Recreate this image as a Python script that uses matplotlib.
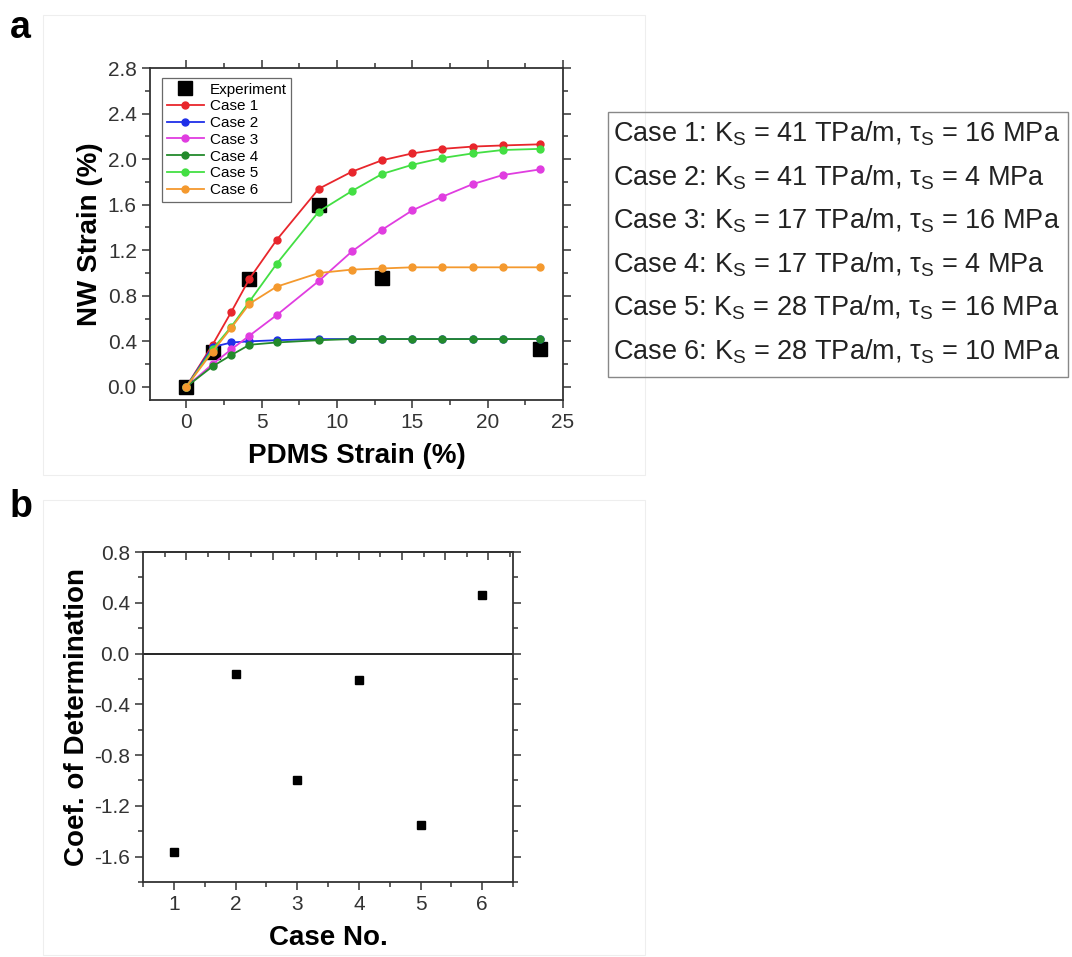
import numpy as np
import matplotlib
matplotlib.use("Agg")
import matplotlib.pyplot as plt
from matplotlib.patches import Rectangle
from matplotlib.ticker import MultipleLocator, FixedLocator, NullFormatter

plt.rcParams['font.family'] = ['Liberation Sans', 'DejaVu Sans']
plt.rcParams['mathtext.fontset'] = 'custom'
plt.rcParams['mathtext.rm'] = 'Liberation Sans'
plt.rcParams['mathtext.it'] = 'Liberation Sans:italic'
plt.rcParams['mathtext.bf'] = 'Liberation Sans:bold'

# ---------------- data: panel a ----------------
pdms_strain = [0, 1.75, 3.0, 4.2, 6.0, 8.8, 11.0, 13.0, 15.0, 17.0, 19.0, 21.0, 23.5]
case1 = [0, 0.37, 0.66, 0.95, 1.29, 1.74, 1.89, 1.99, 2.05, 2.09, 2.11, 2.12, 2.13]
case2 = [0, 0.35, 0.39, 0.40, 0.41, 0.42, 0.42, 0.42, 0.42, 0.42, 0.42, 0.42, 0.42]
case3 = [0, 0.20, 0.33, 0.45, 0.63, 0.93, 1.19, 1.38, 1.55, 1.67, 1.78, 1.86, 1.91]
case4 = [0, 0.18, 0.28, 0.37, 0.39, 0.41, 0.42, 0.42, 0.42, 0.42, 0.42, 0.42, 0.42]
case5 = [0, 0.33, 0.53, 0.75, 1.08, 1.54, 1.72, 1.87, 1.95, 2.01, 2.05, 2.08, 2.09]
case6 = [0, 0.31, 0.52, 0.73, 0.88, 1.00, 1.03, 1.04, 1.05, 1.05, 1.05, 1.05, 1.05]
exp_x = [0, 1.75, 4.2, 8.8, 13.0, 23.5]
exp_y = [0, 0.31, 0.95, 1.60, 0.96, 0.33]

case_labels = ['Case 1', 'Case 2', 'Case 3', 'Case 4', 'Case 5', 'Case 6']
case_colors = ['#e8262c', '#1f2fe8', '#e03de0', '#238a2c', '#43df43', '#f4992e']
param_lines = [
    r'Case 1: K$_\mathregular{S}$ = 41 TPa/m, τ$_\mathregular{S}$ = 16 MPa',
    r'Case 2: K$_\mathregular{S}$ = 41 TPa/m, τ$_\mathregular{S}$ = 4 MPa',
    r'Case 3: K$_\mathregular{S}$ = 17 TPa/m, τ$_\mathregular{S}$ = 16 MPa',
    r'Case 4: K$_\mathregular{S}$ = 17 TPa/m, τ$_\mathregular{S}$ = 4 MPa',
    r'Case 5: K$_\mathregular{S}$ = 28 TPa/m, τ$_\mathregular{S}$ = 16 MPa',
    r'Case 6: K$_\mathregular{S}$ = 28 TPa/m, τ$_\mathregular{S}$ = 10 MPa',
]

# ---------------- data: panel b ----------------
case_no = [1, 2, 3, 4, 5, 6]
coef_det = [-1.56, -0.16, -1.00, -0.21, -1.35, 0.46]

W, H = 1072, 957
fig = plt.figure(figsize=(W / 100, H / 100), dpi=100)

def fx(px):
    return px / W

def fy(py):
    return 1 - py / H

# faint panel frames
for (x0, y0, x1, y1) in [(43, 15, 645, 475), (43, 500, 645, 955)]:
    fig.patches.append(Rectangle((fx(x0), fy(y1)), fx(x1) - fx(x0), fy(y0) - fy(y1),
                                 transform=fig.transFigure, fill=False,
                                 edgecolor='#eeeeee', linewidth=0.8))

def style_axes(ax):
    for s in ax.spines.values():
        s.set_linewidth(1.3)
        s.set_color('#333333')
    ax.tick_params(which='both', direction='out', labelsize=15, colors='#333333',
                   labelcolor='#333333', width=1.1)
    ax.tick_params(which='major', length=6)
    ax.tick_params(which='minor', length=3.5)
    ax.tick_params(which='both', top=True, right=True)
    ax.tick_params(which='both', axis='x', labeltop=False)
    ax.tick_params(which='both', axis='y', labelright=False)

# ---------------- panel a ----------------
axa = fig.add_axes([fx(150), fy(400), fx(563) - fx(150), fy(68) - fy(400)])
axa.plot(exp_x, exp_y, linestyle='none', marker='s', markersize=10,
         color='black', label='Experiment', zorder=2)
series = [case1, case2, case3, case4, case5, case6]
order = [0, 4, 2, 5, 1, 3]
handles = {}
for i in order:
    h, = axa.plot(pdms_strain, series[i], '-o', color=case_colors[i], lw=1.3,
                  markersize=5, label=case_labels[i], zorder=3 + i * 0.1)
    handles[i] = h
axa.set_xlim(-2.4, 25)
axa.set_ylim(-0.115, 2.8)
axa.xaxis.set_major_locator(MultipleLocator(5))
axa.xaxis.set_minor_locator(MultipleLocator(2.5))
axa.yaxis.set_major_locator(MultipleLocator(0.4))
axa.yaxis.set_minor_locator(MultipleLocator(0.2))
axa.yaxis.set_major_formatter(matplotlib.ticker.FormatStrFormatter('%.1f'))
style_axes(axa)
axa.set_xlabel('PDMS Strain (%)', fontsize=20, fontweight='bold', labelpad=8)
axa.set_ylabel('NW Strain (%)', fontsize=20, fontweight='bold', labelpad=3)
hs, ls = axa.get_legend_handles_labels()
exp_h = hs[ls.index('Experiment')]
leg = axa.legend([exp_h] + [handles[i] for i in range(6)],
                 ['Experiment'] + case_labels,
                 loc='upper left', bbox_to_anchor=(0.03, 0.97), fontsize=11,
                 frameon=True, fancybox=False, edgecolor='#444444',
                 handlelength=2.4, handletextpad=0.4, labelspacing=0.18,
                 borderpad=0.3, borderaxespad=0.0)
leg.get_frame().set_linewidth(0.9)

# ---------------- parameter box ----------------
fig.patches.append(Rectangle((fx(608), fy(377)), fx(1068) - fx(608), fy(112) - fy(377),
                             transform=fig.transFigure, fill=False,
                             edgecolor='#888888', linewidth=1.0))
for k, line in enumerate(param_lines):
    fig.text(fx(613), fy(141.7 + k * 43.5), line, fontsize=19.5, color='#222222',
             ha='left', va='baseline')

# ---------------- panel b ----------------
axb = fig.add_axes([fx(143), fy(882), fx(513) - fx(143), fy(552) - fy(882)])
axb.axhline(0, color='black', lw=1.2, zorder=1)
axb.plot(case_no, coef_det, linestyle='none', marker='s', markersize=5.5,
         color='black', zorder=3)
axb.set_xlim(0.5, 6.5)
axb.set_ylim(-1.8, 0.8)
axb.xaxis.set_major_locator(MultipleLocator(1))
axb.xaxis.set_minor_locator(MultipleLocator(0.5))
axb.yaxis.set_major_locator(MultipleLocator(0.4))
axb.yaxis.set_minor_locator(MultipleLocator(0.2))
axb.yaxis.set_major_formatter(matplotlib.ticker.FormatStrFormatter('%.1f'))
style_axes(axb)
axb.tick_params(which='both', top=False)
topax = axb.secondary_xaxis('top')
topax.xaxis.set_major_locator(FixedLocator(list(np.arange(1.2, 6.5, 0.7))))
topax.xaxis.set_minor_locator(FixedLocator(list(np.arange(0.85, 6.5, 0.7))))
topax.xaxis.set_major_formatter(NullFormatter())
topax.spines['top'].set_linewidth(1.3)
topax.spines['top'].set_color('#333333')
topax.tick_params(which='both', direction='in', colors='#333333', width=1.1)
topax.tick_params(which='major', length=6)
topax.tick_params(which='minor', length=3.5)
axb.set_xlabel('Case No.', fontsize=20, fontweight='bold', labelpad=8)
axb.set_ylabel('Coef. of Determination', fontsize=20, fontweight='bold', labelpad=3)

# panel letters
fig.text(fx(10), fy(38), 'a', fontsize=27, fontweight='bold', ha='left', va='baseline')
fig.text(fx(10), fy(517), 'b', fontsize=27, fontweight='bold', ha='left', va='baseline')

fig.savefig('out.png', dpi=100, facecolor='white')
